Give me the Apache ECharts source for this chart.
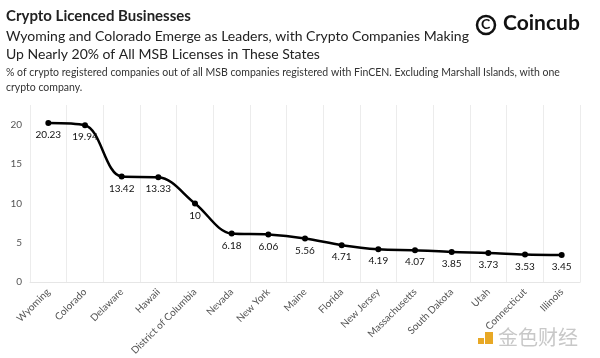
<!DOCTYPE html>
<html><head><meta charset="utf-8">
<script src="https://cdn.jsdelivr.net/npm/echarts@6/dist/echarts.min.js"></script>
<style>html,body{margin:0;padding:0;background:#fff}#c{width:600px;height:358px}</style>
</head><body><div id="c"></div>
<script>
const categories = ["Wyoming","Colorado","Delaware","Hawaii","District of Columbia","Nevada","New York","Maine","Florida","New Jersey","Massachusetts","South Dakota","Utah","Connecticut","Illinois"];
const values = [20.23,19.94,13.42,13.33,10,6.18,6.06,5.56,4.71,4.19,4.07,3.85,3.73,3.53,3.45];
const yTicks = [0,5,10,15,20];

const FONT = "Lato, 'Open Sans', sans-serif";
const chart = echarts.init(document.getElementById('c'), null, {renderer:'canvas'});
chart.setOption({
  animation:false,
  textStyle:{fontFamily:FONT},
  graphic:[
    {type:'text',left:6,top:9,style:{text:'Crypto Licenced Businesses',font:'bold 15px '+FONT,fill:'#222'}},
    {type:'text',left:6,top:27,style:{text:'Wyoming and Colorado Emerge as Leaders, with Crypto Companies Making\nUp Nearly 20% of All MSB Licenses in These States',font:'14px '+FONT,fill:'#222',lineHeight:18}},
    {type:'text',left:6,top:65,style:{text:'% of crypto registered companies out of all MSB companies registered with FinCEN. Excluding Marshall Islands, with one\ncrypto company.',font:'10.5px '+FONT,fill:'#333',lineHeight:15}},
    {type:'circle',shape:{cx:486,cy:25,r:9},style:{fill:'#fff',stroke:'#111',lineWidth:2.5}},
    {type:'text',left:481,top:17,style:{text:'C',font:'bold 14px '+FONT,fill:'#111'}},
    {type:'text',left:503,top:13,style:{text:'Coincub',font:'bold 21px '+FONT,fill:'#111'}},
    {type:'rect',shape:{x:485,y:332,width:8,height:12},style:{fill:'#e8a825'}},
    {type:'rect',shape:{x:478,y:338,width:6,height:6},style:{fill:'#e8a825'}},
    {type:'text',left:498,top:327,style:{text:'金色财经',font:'20px "Noto Sans CJK SC"',fill:'#c8c8c8'}}
  ],
  grid:{left:30,right:20,top:105,bottom:74},
  xAxis:{
    type:'category',data:categories,boundaryGap:true,
    axisLine:{show:true,lineStyle:{color:'#e6e6e6'}},
    axisTick:{show:false},
    splitLine:{show:true,interval:0,lineStyle:{color:'#ececec'}},
    axisLabel:{interval:0,rotate:45,fontSize:10,color:'#555',margin:8}
  },
  yAxis:{
    type:'value',min:0,max:22.5,interval:5,
    axisLine:{show:false},axisTick:{show:false},
    splitLine:{show:false},
    axisLabel:{fontSize:10,color:'#555',margin:8,
      formatter:v=>yTicks.includes(v)?String(v):''}
  },
  series:[{
    type:'line',data:values,smooth:0.35,
    lineStyle:{color:'#000',width:2.5},
    itemStyle:{color:'#000'},
    symbol:'circle',symbolSize:6,
    label:{show:true,position:'bottom',distance:4,fontSize:10,color:'#111'}
  }]
});
</script></body></html>
